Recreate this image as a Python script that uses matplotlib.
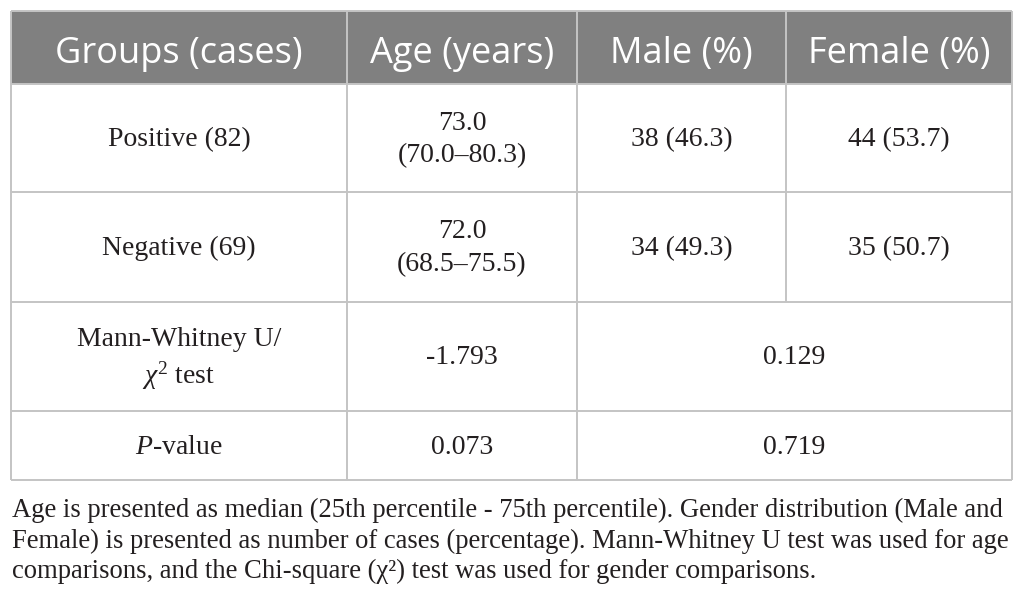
import matplotlib
matplotlib.use("Agg")
import matplotlib.pyplot as plt
from matplotlib.patches import Rectangle

# table content
headers = ["Groups (cases)", "Age (years)", "Male (%)", "Female (%)"]
groups = ["Positive (82)", "Negative (69)"]
age_median = ["73.0", "72.0"]
age_range = ["(70.0\u201380.3)", "(68.5\u201375.5)"]
male = ["38 (46.3)", "34 (49.3)"]
female = ["44 (53.7)", "35 (50.7)"]
stat_labels = ["Mann-Whitney U/\n$\\chi^2$ test", "$P$-value"]
age_stats = ["-1.793", "0.073"]
gender_stats = ["0.129", "0.719"]
footnote = [
    "Age is presented as median (25th percentile - 75th percentile). Gender distribution (Male and",
    "Female) is presented as number of cases (percentage). Mann-Whitney U test was used for age",
    "comparisons, and the Chi-square (\u03c7\u00b2) test was used for gender comparisons.",
]

# layout in pixels
col_edges = [11, 347, 577, 786, 1012]
row_edges = [11, 84, 192, 302, 411, 480]
HEADER_BG = "#808080"
LINE = "#c4c4c4"
INK = "#231f20"

plt.rcParams["font.family"] = ["Liberation Serif", "DejaVu Serif"]
plt.rcParams["mathtext.fontset"] = "custom"
plt.rcParams["mathtext.rm"] = "Liberation Serif"
plt.rcParams["mathtext.it"] = "Liberation Serif:italic"

fig = plt.figure(figsize=(10.25, 6.04), dpi=100)
ax = fig.add_axes([0, 0, 1, 1])
ax.set_xlim(0, 1025)
ax.set_ylim(604, 0)
ax.axis("off")

# header band
ax.add_patch(Rectangle((col_edges[0], row_edges[0]), col_edges[-1] - col_edges[0],
                       row_edges[1] - row_edges[0], facecolor=HEADER_BG, edgecolor="none"))

lw = 1.4
for y in row_edges:
    ax.plot([col_edges[0], col_edges[-1]], [y, y], color=LINE, lw=lw, solid_capstyle="butt")
# the Male/Female divider stops where the gender columns merge
for i, x in enumerate(col_edges):
    y_end = row_edges[3] if i == 3 else row_edges[-1]
    ax.plot([x, x], [row_edges[0], y_end], color=LINE, lw=lw, solid_capstyle="butt")


def cx(i):
    return (col_edges[i] + col_edges[i + 1]) / 2


def cy(j):
    return (row_edges[j] + row_edges[j + 1]) / 2


def cell(x, j, label, gap=33):
    # place each line of a cell on its own baseline, block centred in the row
    lines = label.split("\n")
    n = len(lines)
    for k, ln in enumerate(lines):
        base = cy(j) + 8 + (k - (n - 1) / 2) * gap
        ax.text(x, base, ln, fontsize=20, color=INK, ha="center", va="baseline")


for i, h in enumerate(headers):
    ax.text(cx(i), cy(0) + 15.5, h, family="Open Sans", fontsize=26, color="white",
            ha="center", va="baseline")

for j in range(len(groups)):
    cell(cx(0), j + 1, groups[j])
    cell(cx(1), j + 1, age_median[j] + "\n" + age_range[j])
    cell(cx(2), j + 1, male[j])
    cell(cx(3), j + 1, female[j])

merged_x = (col_edges[2] + col_edges[4]) / 2
for j in range(len(stat_labels)):
    cell(cx(0), j + 3, stat_labels[j], gap=38)
    cell(cx(1), j + 3, age_stats[j])
    cell(merged_x, j + 3, gender_stats[j])

notes = []
for k, line in enumerate(footnote):
    notes.append(ax.text(12, 517 + 30.5 * k, line, fontsize=19, color=INK,
                         ha="left", va="baseline"))

# size the footnote so its widest line runs to the table's right edge
fig.canvas.draw()
w = max(t.get_window_extent().width for t in notes)
for t in notes:
    t.set_fontsize(19 * 998 / w)

fig.savefig("out.png", dpi=100, facecolor="white")
